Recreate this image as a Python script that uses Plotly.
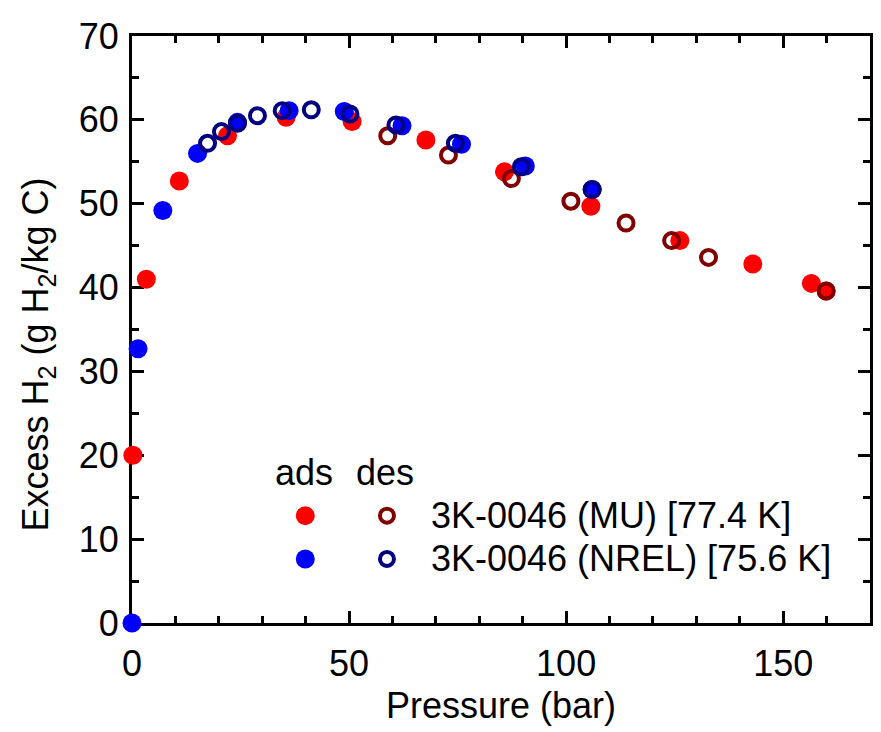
import plotly.graph_objects as go

# ---- data ----
mu_ads_x = [0.2, 3.3, 10.9, 22.0, 35.5, 50.7, 67.7, 85.8, 105.7, 126.2, 143.0, 156.5, 159.9]
mu_ads_y = [20.0, 41.0, 52.7, 58.1, 60.3, 59.8, 57.6, 53.8, 49.7, 45.6, 42.8, 40.5, 39.6]

mu_des_x = [58.9, 72.9, 87.4, 101.1, 113.8, 124.3, 132.8, 159.9]
mu_des_y = [58.1, 55.8, 53.0, 50.3, 47.7, 45.6, 43.6, 39.6]

nrel_ads_x = [0.0, 1.4, 7.1, 15.1, 24.3, 36.2, 48.9, 62.2, 75.9, 90.6, 106.0]
nrel_ads_y = [0.0, 32.7, 49.2, 56.0, 59.7, 61.1, 61.0, 59.3, 57.1, 54.5, 51.7]

nrel_des_x = [17.4, 20.6, 24.3, 28.9, 34.6, 41.3, 50.2, 60.8, 74.5, 89.7, 106.0]
nrel_des_y = [57.2, 58.6, 59.6, 60.5, 61.1, 61.2, 60.7, 59.4, 57.2, 54.4, 51.7]

legend_names = ["3K-0046 (MU) [77.4 K]", "3K-0046 (NREL) [75.6 K]"]
x_ticks = [0, 50, 100, 150]
y_ticks = [0, 10, 20, 30, 40, 50, 60, 70]

RED, DRED, BLUE, NAVY = "#ff0000", "#800000", "#0000ff", "#000080"
FONT = "Liberation Sans, Arial, sans-serif"
FS = 36

fig = go.Figure()
fig.add_trace(go.Scatter(x=mu_ads_x, y=mu_ads_y, mode="markers", cliponaxis=False,
                         marker=dict(symbol="circle", size=19, color=RED, line=dict(width=0))))
fig.add_trace(go.Scatter(x=mu_des_x, y=mu_des_y, mode="markers", cliponaxis=False,
                         marker=dict(symbol="circle-open", size=15, color=DRED, line=dict(width=4, color=DRED))))
fig.add_trace(go.Scatter(x=nrel_ads_x, y=nrel_ads_y, mode="markers", cliponaxis=False,
                         marker=dict(symbol="circle", size=19, color=BLUE, line=dict(width=0))))
fig.add_trace(go.Scatter(x=nrel_des_x, y=nrel_des_y, mode="markers", cliponaxis=False,
                         marker=dict(symbol="circle-open", size=15, color=NAVY, line=dict(width=4, color=NAVY))))

# page body has an 8px margin: size the figure so the plot lands where the reference has it
OFF = 8
W, H = 881 - OFF, 732 - OFF
L, R, T = 132 - OFF, 8, 27 - OFF
B = H - (623 - OFF)
pw, ph = W - L - R, H - T - B


def px2x(px):
    return (px - OFF - L) / pw


def px2y(py):
    return (H - B - (py - OFF)) / ph


axis_common = dict(
    showline=True, linecolor="black", linewidth=3, mirror="ticks",
    ticks="inside", ticklen=12, tickwidth=2.5, tickcolor="black",
    showgrid=False, zeroline=False, layer="below traces",
    tickfont=dict(family=FONT, size=FS, color="black"),
    ticklabeloverflow="allow",
)

fig.update_xaxes(range=[0, 170], tickvals=x_ticks, ticklabelstandoff=7,
                 minor=dict(ticks="inside", ticklen=7, tickwidth=2.5, tickcolor="black", dtick=10, tick0=0),
                 title=dict(text="Pressure (bar)", font=dict(family=FONT, size=FS, color="black"), standoff=10),
                 **axis_common)
fig.update_yaxes(range=[0, 70], tickvals=y_ticks, ticklabelstandoff=3,
                 minor=dict(ticks="inside", ticklen=7, tickwidth=2.5, tickcolor="black", dtick=5, tick0=0),
                 **axis_common)

annotations = [
    dict(text="Excess H<sub>2</sub> (g H<sub>2</sub>/kg C)", textangle=-90, xref="paper", yref="paper",
         x=px2x(38), y=px2y(350), showarrow=False, xanchor="center", yanchor="middle",
         font=dict(family=FONT, size=FS, color="black")),
    dict(text="ads", xref="paper", yref="paper", x=px2x(305), y=px2y(470), showarrow=False,
         xanchor="center", yanchor="middle", font=dict(family=FONT, size=FS, color="black")),
    dict(text="des", xref="paper", yref="paper", x=px2x(386), y=px2y(470), showarrow=False,
         xanchor="center", yanchor="middle", font=dict(family=FONT, size=FS, color="black")),
]
row_y = [514, 558]
for name, ry in zip(legend_names, row_y):
    annotations.append(dict(text=name, xref="paper", yref="paper", x=px2x(430), y=px2y(ry),
                            showarrow=False, xanchor="left", yanchor="middle",
                            font=dict(family=FONT, size=FS, color="black")))

shapes = []
for (fill, ring), ry in zip([(RED, DRED), (BLUE, NAVY)], row_y):
    shapes.append(dict(type="circle", xref="paper", yref="paper", xsizemode="pixel", ysizemode="pixel",
                       xanchor=px2x(306), yanchor=px2y(ry), x0=-9.5, x1=9.5, y0=-9.5, y1=9.5,
                       fillcolor=fill, line=dict(width=0)))
    shapes.append(dict(type="circle", xref="paper", yref="paper", xsizemode="pixel", ysizemode="pixel",
                       xanchor=px2x(388), yanchor=px2y(ry), x0=-7, x1=7, y0=-7, y1=7,
                       fillcolor="rgba(0,0,0,0)", line=dict(width=4, color=ring)))

fig.update_layout(
    width=W, height=H, autosize=False,
    margin=dict(l=L, r=R, t=T, b=B, pad=0),
    paper_bgcolor="white", plot_bgcolor="white",
    showlegend=False,
    annotations=annotations, shapes=shapes,
    font=dict(family=FONT, size=FS, color="black"),
)

fig.write_html("out.html")
